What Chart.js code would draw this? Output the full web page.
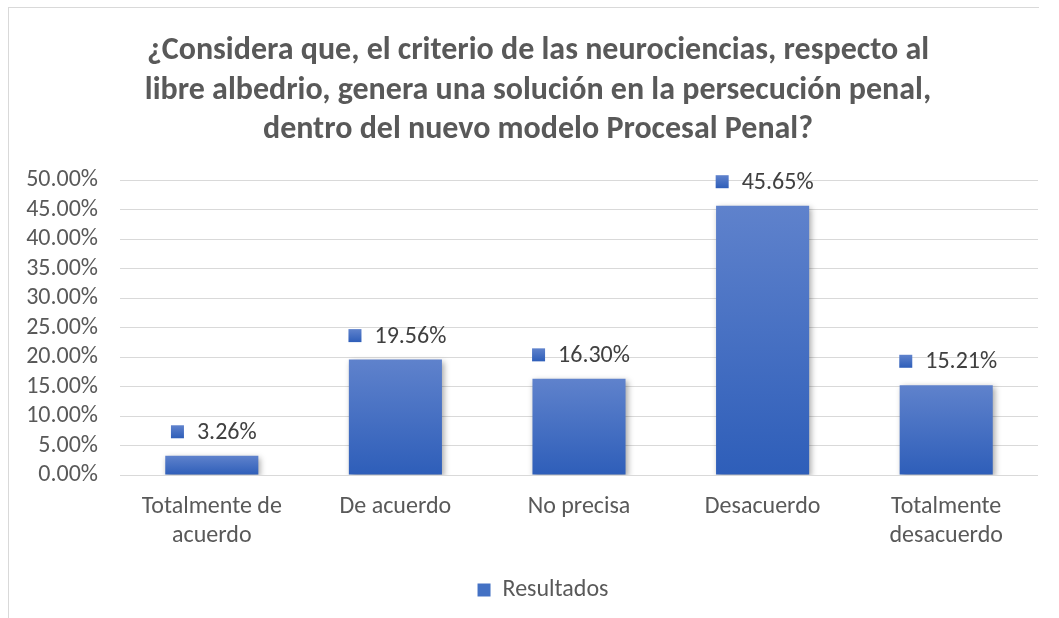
<!DOCTYPE html>
<html>
<head>
<meta charset="utf-8">
<script src="https://cdn.jsdelivr.net/npm/chart.js@4"></script>
<style>
  html, body { margin: 0; padding: 0; background: #fff; }
  #wrap { position: relative; width: 1059px; height: 618px; }
  #frame { position: absolute; left: 8px; top: 7px; width: 1030px; height: 620px;
           border-left: 1px solid #d9d9d9; border-top: 1px solid #d9d9d9; pointer-events: none; }
  canvas { position: absolute; left: 0; top: 0; }
</style>
</head>
<body>
<div id="wrap">
  <canvas id="c" width="1059" height="618"></canvas>
  <div id="frame"></div>
</div>
<script>
const titleLines = [
  "¿Considera que, el criterio de las neurociencias, respecto al",
  "libre albedrio, genera una solución en la persecución penal,",
  "dentro del nuevo modelo Procesal Penal?"
];
const categories = [
  ["Totalmente de", "acuerdo"],
  "De acuerdo",
  "No precisa",
  "Desacuerdo",
  ["Totalmente", "desacuerdo"]
];
const seriesName = "Resultados";
const values = [3.26, 19.56, 16.30, 45.65, 15.21];
const yMin = 0, yMax = 50, yStep = 5;

const FONT = "Carlito, Lato, 'Liberation Sans', sans-serif";
const TOP_COLOR = "#5f82cc";
const BOTTOM_COLOR = "#2e5eb9";
const SOLID = "#4471c4";

function barGradient(ctx, top, bottom) {
  const g = ctx.createLinearGradient(0, top, 0, bottom);
  g.addColorStop(0, TOP_COLOR);
  g.addColorStop(1, BOTTOM_COLOR);
  return g;
}

const shadowPlugin = {
  id: 'barShadow',
  beforeDatasetDraw(chart) {
    const ctx = chart.ctx;
    ctx.save();
    ctx.shadowColor = 'rgba(0,0,0,0.35)';
    ctx.shadowBlur = 6;
    ctx.shadowOffsetX = 2;
    ctx.shadowOffsetY = 2;
  },
  afterDatasetDraw(chart) {
    chart.ctx.restore();
  }
};

// shift title and legend boxes horizontally to match the original centring
const shiftPlugin = {
  id: 'shiftBoxes',
  afterLayout(chart) {
    const t = chart.titleBlock;
    if (t) { t.left += 19; t.right += 19; }
    const l = chart.legend;
    if (l) { l.left += 24; l.right += 24; }
  }
};

const labelPlugin = {
  id: 'valueLabels',
  afterDatasetsDraw(chart) {
    const ctx = chart.ctx;
    const meta = chart.getDatasetMeta(0);
    ctx.save();
    ctx.font = "24px " + FONT;
    ctx.textBaseline = 'middle';
    ctx.textAlign = 'left';
    meta.data.forEach((bar, i) => {
      const txt = values[i].toFixed(2) + '%';
      const w = ctx.measureText(txt).width;
      const sq = 13, gap = 13;
      const total = sq + gap + w;
      const x0 = bar.x - total / 2 + 2;
      const cy = bar.y - 24;
      ctx.fillStyle = barGradient(ctx, cy - sq / 2, cy + sq / 2);
      ctx.fillRect(x0, cy - sq / 2, sq, sq);
      ctx.fillStyle = '#404040';
      ctx.fillText(txt, x0 + sq + gap, cy + 1);
    });
    ctx.restore();
  }
};

new Chart(document.getElementById('c'), {
  type: 'bar',
  data: {
    labels: categories,
    datasets: [{
      label: seriesName,
      data: values,
      backgroundColor(context) {
        const chart = context.chart;
        if (context.dataIndex === undefined || !chart.chartArea) return SOLID;
        const ys = chart.scales.y;
        const top = ys.getPixelForValue(context.raw);
        const bottom = ys.getPixelForValue(0);
        return barGradient(chart.ctx, top, bottom);
      },
      borderWidth: 0,
      categoryPercentage: 1,
      barPercentage: 0.507
    }]
  },
  options: {
    responsive: false,
    animation: false,
    events: [],
    layout: { padding: { top: 31, right: 21, bottom: 6, left: 0 } },
    plugins: {
      title: {
        display: true,
        text: titleLines,
        color: '#595959',
        font: { family: FONT, size: 32, weight: 'bold', lineHeight: 1.24 },
        padding: { top: 0, bottom: 30 }
      },
      legend: {
        display: true,
        position: 'bottom',
        labels: {
          color: '#595959',
          font: { family: FONT, size: 24 },
          boxWidth: 13,
          boxHeight: 13,
          padding: 8,
          generateLabels() {
            return [{ text: seriesName, fillStyle: SOLID, strokeStyle: SOLID, lineWidth: 0, fontColor: '#595959' }];
          }
        }
      },
      tooltip: { enabled: false }
    },
    scales: {
      x: {
        grid: { display: false },
        border: { display: false },
        ticks: {
          color: '#595959',
          font: { family: FONT, size: 24, lineHeight: 1.2 },
          padding: 10,
          maxRotation: 0,
          autoSkip: false
        },
        afterFit(scale) { scale.height = 95; }
      },
      y: {
        min: yMin,
        max: yMax,
        grid: { color: '#d9d9d9', lineWidth: 1, drawTicks: false },
        border: { display: false },
        ticks: {
          stepSize: yStep,
          autoSkip: false,
          color: '#595959',
          font: { family: FONT, size: 24 },
          padding: 22,
          callback: v => v.toFixed(2) + '%'
        },
        afterFit(scale) { scale.width = 120; }
      }
    }
  },
  plugins: [shadowPlugin, shiftPlugin, labelPlugin]
});
</script>
</body>
</html>
